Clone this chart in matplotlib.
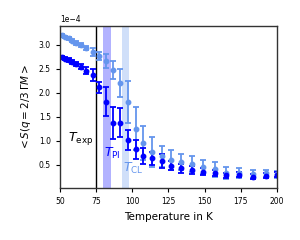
import matplotlib
matplotlib.use("Agg")
import matplotlib.pyplot as plt
import numpy as np

# temperatures in K
temps = [51.2, 53.5, 56.0, 58.6, 61.4, 64.2, 67.8, 72.5, 76.7, 81.5,
         86.4, 91.5, 97.2, 102.4, 107.6, 113.9, 120.4, 126.9, 133.8, 141.1,
         148.9, 156.9, 165.1, 174.1, 183.3, 192.6, 200.3]

# structure factor, units of 1e-4
s_light = [3.20, 3.16, 3.13, 3.08, 3.04, 2.99, 2.93, 2.84, 2.76, 2.66,
           2.47, 2.20, 1.80, 1.25, 0.95, 0.77, 0.67, 0.60, 0.55, 0.52,
           0.45, 0.40, 0.33, 0.33, 0.31, 0.32, 0.30]
err_light = [0.03, 0.03, 0.03, 0.035, 0.04, 0.045, 0.05, 0.08, 0.08, 0.14,
             0.18, 0.30, 0.44, 0.45, 0.35, 0.31, 0.22, 0.21, 0.17, 0.17,
             0.14, 0.15, 0.13, 0.10, 0.08, 0.07, 0.07]

s_dark = [2.74, 2.71, 2.68, 2.64, 2.60, 2.54, 2.46, 2.37, 2.11, 1.81,
          1.37, 1.37, 1.01, 0.82, 0.68, 0.63, 0.58, 0.48, 0.42, 0.39,
          0.35, 0.33, 0.28, 0.29, 0.25, 0.27, 0.29]
err_dark = [0.03, 0.03, 0.035, 0.04, 0.045, 0.05, 0.08, 0.12, 0.12, 0.30,
            0.34, 0.30, 0.21, 0.20, 0.16, 0.14, 0.15, 0.10, 0.09, 0.08,
            0.07, 0.06, 0.05, 0.05, 0.05, 0.05, 0.05]

T_exp = 75
T_PI = (80, 85)
T_CL = (93, 98)

scale = 1e-4

fig = plt.figure(figsize=(3, 2.4), dpi=100)
ax = fig.add_axes([0.2, 0.217, 0.723, 0.675])

ax.axvspan(*T_PI, color='blue', alpha=0.3, lw=0)
ax.axvspan(*T_CL, color='cornflowerblue', alpha=0.3, lw=0)
ax.axvline(T_exp, color='black', lw=1)

ax.text(80.5, 0.74 * scale, r'$T_\mathrm{PI}$', color='blue', fontsize=9,
        va='center')
ax.text(93.5, 0.43 * scale, r'$T_\mathrm{CL}$', color='cornflowerblue',
        fontsize=9, va='center')
ax.text(55.5, 1.05 * scale, r'$T_\mathrm{exp}$', color='black', fontsize=9,
        va='center')

ax.errorbar(temps, np.array(s_light) * scale, yerr=np.array(err_light) * scale,
            fmt='o', color='cornflowerblue', ms=3.2, capsize=2,
            elinewidth=1.3, capthick=1.3)
ax.errorbar(temps, np.array(s_dark) * scale, yerr=np.array(err_dark) * scale,
            fmt='o', color='blue', ms=3.2, capsize=2,
            elinewidth=1.3, capthick=1.3)

ax.set_xlim(50, 200)
ax.set_ylim(0.015 * scale, 3.39 * scale)
ax.set_xticks([50, 75, 100, 125, 150, 175, 200])
ax.set_yticks(np.array([0.5, 1.0, 1.5, 2.0, 2.5, 3.0]) * scale)
ax.ticklabel_format(axis='y', style='sci', scilimits=(0, 0))
ax.tick_params(labelsize=5.5, length=3, width=0.8)
ax.yaxis.get_offset_text().set_fontsize(5.5)
for sp in ax.spines.values():
    sp.set_color('#333333')
    sp.set_linewidth(1)

ax.set_xlabel('Temperature in K', fontsize=7.5)
ax.set_ylabel(r'$< S(q = 2/3\,\Gamma M >$', fontsize=7.5)

plt.savefig('out.png', dpi=100)
plt.close('all')
